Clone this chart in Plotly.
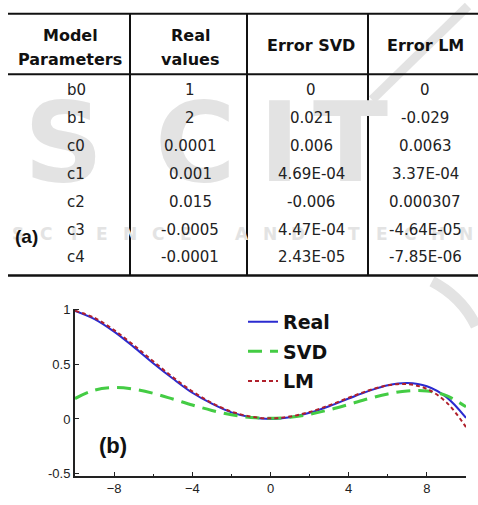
import plotly.graph_objects as go

W, H = 478, 505

# ---------------- table data ----------------
header_cols = [["Model", "Parameters"], ["Real", "values"], ["Error SVD"], ["Error LM"]]
params = ["b0", "b1", "c0", "c1", "c2", "c3", "c4"]
real_values = ["1", "2", "0.0001", "0.001", "0.015", "-0.0005", "-0.0001"]
err_svd = ["0", "0.021", "0.006", "4.69E-04", "-0.006", "4.47E-04", "2.43E-05"]
err_lm = ["0", "-0.029", "0.0063", "3.37E-04", "0.000307", "-4.64E-05", "-7.85E-06"]

# ---------------- curve data ----------------
x_vals = [-10, -9, -8, -7, -6, -5, -4, -3, -2, -1, 0, 1, 2, 3, 4, 5, 6, 7, 8, 9, 10]
real_curve = [0.99, 0.915, 0.80, 0.66, 0.51, 0.37, 0.24, 0.14, 0.06, 0.015, 0.0,
              0.015, 0.057, 0.117, 0.187, 0.255, 0.309, 0.33, 0.30, 0.20, 0.01]
svd_curve = [0.187, 0.264, 0.287, 0.273, 0.235, 0.183, 0.128, 0.078, 0.038, 0.014, 0.006,
             0.016, 0.043, 0.084, 0.133, 0.185, 0.229, 0.257, 0.257, 0.213, 0.111]
lm_curve = [0.99, 0.925, 0.813, 0.676, 0.528, 0.383, 0.253, 0.146, 0.068, 0.021, 0.006,
            0.022, 0.064, 0.125, 0.194, 0.26, 0.308, 0.319, 0.275, 0.152, -0.074]

x_ticks = [-8, -4, 0, 4, 8]
y_ticks = [-0.5, 0, 0.5, 1]
y_tick_text = ["-0.5", "0", "0.5", "1"]


def px(x):
    return x / W


def py(y):
    return 1 - y / H


fig = go.Figure()
fig.add_trace(go.Scatter(x=x_vals, y=real_curve, mode="lines", name="<b>Real</b>",
                         line=dict(color="#2b2bd0", width=2, shape="spline"),
                         legendgroup="a"))
fig.add_trace(go.Scatter(x=x_vals, y=svd_curve, mode="lines", name="<b>SVD</b>",
                         line=dict(color="#44cc44", width=3, dash="14px,8px", shape="spline"),
                         legendgroup="b"))
fig.add_trace(go.Scatter(x=x_vals, y=lm_curve, mode="lines", name="<b>LM</b>",
                         line=dict(color="#b0202c", width=2, dash="4px,3px", shape="spline"),
                         legendgroup="c"))

annotations = []
shapes = []

# ---------------- watermark (light gray) ----------------
wm_col = "#e3e3e3"
for ch, cx in zip("SCIT", [64, 195, 279, 350]):
    annotations.append(dict(x=px(cx), y=py(140), xref="paper", yref="paper", text="<b>" + ch + "</b>",
                            showarrow=False, xanchor="center", yanchor="middle",
                            font=dict(family="DejaVu Sans", size=110, color=wm_col)))
wm_line2 = "SCIENCE AND TECHN"
for i, ch in enumerate(wm_line2):
    if ch == " ":
        continue
    annotations.append(dict(x=px(18 + i * 28), y=py(234), xref="paper", yref="paper",
                            text="<b>" + ch + "</b>", showarrow=False, xanchor="center",
                            yanchor="middle",
                            font=dict(family="DejaVu Sans", size=17, color=wm_col)))
shapes.append(dict(type="line", xref="paper", yref="paper", x0=px(468), y0=py(0),
                   x1=px(372), y1=py(96), line=dict(color=wm_col, width=9), layer="below"))
shapes.append(dict(type="path", xref="paper", yref="paper",
                   path="M %f %f Q %f %f %f %f" % (px(432), py(282), px(462), py(298), px(476), py(328)),
                   line=dict(color=wm_col, width=11), layer="below"))

# ---------------- table lines ----------------
line_col = "#111111"
x_left, x_right = 8, 478
for yy, wdt in [(8, 2), (70, 2), (276, 2.5)]:
    shapes.append(dict(type="line", xref="paper", yref="paper", x0=px(x_left), x1=px(x_right),
                       y0=py(yy), y1=py(yy), line=dict(color=line_col, width=wdt)))
for xx in [130, 247, 368]:
    shapes.append(dict(type="line", xref="paper", yref="paper", x0=px(xx), x1=px(xx),
                       y0=py(8), y1=py(276), line=dict(color=line_col, width=2)))

col_centers = [70, 190, 311, 425]
hdr_font = dict(family="DejaVu Sans", size=16, color="#111111")
for cx, lines in zip(col_centers, header_cols):
    ys = [30, 55] if len(lines) == 2 else [40]
    for t, yy in zip(lines, ys):
        annotations.append(dict(x=px(cx), y=py(yy), xref="paper", yref="paper",
                                text="<b>" + t + "</b>", showarrow=False,
                                xanchor="center", yanchor="middle", font=hdr_font))

data_font = dict(family="DejaVu Sans", size=15, color="#222222")
row_y0, row_step = 86, 28.6
for ci, col in enumerate([params, real_values, err_svd, err_lm]):
    cx = col_centers[ci] + (6 if ci == 0 else 0)
    for ri, t in enumerate(col):
        annotations.append(dict(x=px(cx), y=py(row_y0 + ri * row_step), xref="paper", yref="paper",
                                text=t, showarrow=False, xanchor="center", yanchor="middle",
                                font=data_font))

annotations.append(dict(x=px(26), y=py(236), xref="paper", yref="paper", text="<b>(a)</b>",
                        showarrow=False, xanchor="center", yanchor="middle",
                        font=dict(family="Liberation Sans", size=19, color="#111111")))
annotations.append(dict(x=px(113), y=py(450), xref="paper", yref="paper", text="<b>(b)</b>",
                        showarrow=False, xanchor="center", yanchor="middle",
                        font=dict(family="Liberation Sans", size=22, color="#111111")))

fig.update_layout(
    width=W, height=H,
    margin=dict(l=0, r=0, t=0, b=0),
    paper_bgcolor="white", plot_bgcolor="rgba(0,0,0,0)",
    showlegend=True,
    legend=dict(x=px(243), y=py(304), xanchor="left", yanchor="top",
                bgcolor="rgba(0,0,0,0)",
                font=dict(family="DejaVu Sans", size=19, color="#111111"),
                tracegroupgap=2, itemwidth=30),
    xaxis=dict(domain=[px(75), px(466)], range=[-10, 10], tickvals=x_ticks,
               ticks="inside", ticklen=4, tickcolor="#222", showgrid=False, zeroline=False,
               showline=True, linecolor="#222", linewidth=2,
               minor=dict(tickvals=[-6, -2, 2, 6], ticks="inside", ticklen=2, tickcolor="#222"),
               tickfont=dict(family="Liberation Sans", size=13, color="#222")),
    yaxis=dict(domain=[24 / H, 195 / H], range=[-0.518, 1.01], tickvals=y_ticks,
               ticktext=y_tick_text,
               ticks="inside", ticklen=4, tickcolor="#222", showgrid=False, zeroline=False,
               showline=True, linecolor="#222", linewidth=2,
               tickfont=dict(family="Liberation Sans", size=13, color="#222")),
    annotations=annotations,
    shapes=shapes,
)

fig.write_html("out.html", post_script="document.body.style.margin='0px';",
               config={"displayModeBar": False})
